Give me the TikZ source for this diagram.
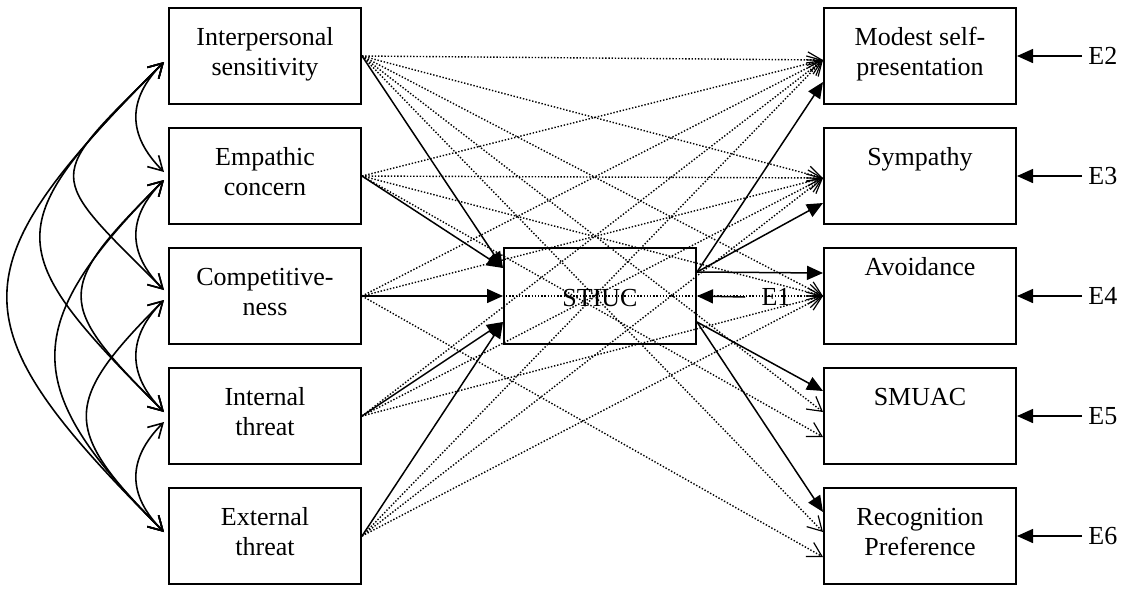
\documentclass[tikz,border=0pt]{standalone}
\usepackage{fontspec}
\setmainfont{Liberation Serif}
\usetikzlibrary{arrows.meta}

\begin{document}
\begin{tikzpicture}[x=0.5pt,y=-0.5pt,
    varbox/.style={draw,line width=1pt,minimum width=96pt,minimum height=48pt,align=center,inner sep=0pt,
      font=\fontsize{13}{15}\selectfont,execute at begin node=\strut,execute at end node=\strut},
    pathline/.style={line width=0.75pt,-{Triangle[length=8pt,width=7pt]}},
    dotline/.style={line width=0.7pt,dash pattern=on 0.7pt off 0.9pt,-{Straight Barb[length=7pt,width=8pt,line width=0.6pt]}},
    corline/.style={line width=0.8pt,{Straight Barb[length=7pt,width=8pt]}-{Straight Barb[length=7pt,width=8pt]}},
    errlab/.style={font=\fontsize{13}{15}\selectfont,inner sep=0pt}]
  \useasboundingbox (0,0) rectangle (1136,590);

  % exogenous variables
  \node[varbox] (ints) at (265,56) {Interpersonal\\sensitivity};
  \node[varbox] (emp) at (265,176) {Empathic\\concern};
  \node[varbox] (comp) at (265,296) {Competitive-\\ness};
  \node[varbox] (intt) at (265,416) {Internal\\threat};
  \node[varbox] (extt) at (265,536) {External\\threat};

  % mediator
  \node[varbox] (stiuc) at (600,296) {\\STIUC};
  \node[errlab] (e1) at (776,297) {E1};

  % outcomes
  \node[varbox] (mod) at (920,56) {Modest self-\\presentation};
  \node[varbox] (symp) at (920,176) {Sympathy\\};
  \node[varbox] (avoid) at (920,296) {Avoidance\\[10pt]};
  \node[varbox] (smuac) at (920,416) {SMUAC\\};
  \node[varbox] (recog) at (920,536) {Recognition\\Preference};

  \node[errlab,anchor=west] (e2) at (1088,56) {E2};
  \node[errlab,anchor=west] (e3) at (1088,176) {E3};
  \node[errlab,anchor=west] (e4) at (1088,296) {E4};
  \node[errlab,anchor=west] (e5) at (1088,416) {E5};
  \node[errlab,anchor=west] (e6) at (1088,536) {E6};

  % residual arrows
  \draw[pathline] ([xshift=-8pt]e1.west) -- (stiuc.east);
  \foreach \e/\v in {e2/mod,e3/symp,e4/avoid,e5/smuac,e6/recog}
    \draw[pathline] ([xshift=-3pt]\e.west) -- (\v.east);

  % paths through STIUC
  \draw[pathline] (ints.east) -- ([yshift=14pt]stiuc.west);
  \draw[pathline] (emp.east) -- ([yshift=14pt]stiuc.west);
  \draw[pathline] (comp.east) -- (stiuc.west);
  \draw[pathline] (intt.east) -- ([yshift=-13pt]stiuc.west);
  \draw[pathline] (extt.east) -- ([yshift=-13pt]stiuc.west);
  \draw[pathline] ([yshift=12pt]stiuc.east) -- ([yshift=-13pt]mod.west);
  \draw[pathline] ([yshift=12pt]stiuc.east) -- ([yshift=-13.5pt]symp.west);
  \draw[pathline] ([yshift=12pt]stiuc.east) -- ([yshift=11.5pt]avoid.west);
  \draw[pathline] ([yshift=-13pt]stiuc.east) -- ([yshift=12.5pt]smuac.west);
  \draw[pathline] ([yshift=-13pt]stiuc.east) -- ([yshift=12pt]recog.west);

  % direct paths
  \foreach \s in {ints,emp,comp,intt,extt}{
    \draw[dotline] (\s.east) -- ([yshift=-2pt]mod.west);
    \draw[dotline] (\s.east) -- ([yshift=-1pt]symp.west);
    \draw[dotline] (\s.east) -- (avoid.west);
  }
  \draw[dotline] (ints.east) -- ([yshift=2pt]smuac.west);
  \draw[dotline] (emp.east) -- ([yshift=-10.5pt]smuac.west);
  \draw[dotline] (ints.east) -- ([yshift=2pt]recog.west);
  \draw[dotline] (comp.east) -- ([yshift=-10.5pt]recog.west);

  % correlations
  \coordinate (p1) at ([xshift=-2pt,yshift=-3pt]ints.west);
  \coordinate (p2u) at ([xshift=-2pt,yshift=2pt]emp.west);
  \coordinate (p2l) at ([xshift=-2pt,yshift=-2pt]emp.west);
  \coordinate (p3u) at ([xshift=-2pt,yshift=3pt]comp.west);
  \coordinate (p3l) at ([xshift=-2pt,yshift=-2pt]comp.west);
  \coordinate (p4u) at ([xshift=-2pt,yshift=2pt]intt.west);
  \coordinate (p4l) at ([xshift=-2pt,yshift=-3pt]intt.west);
  \coordinate (p5) at ([xshift=-2pt,yshift=2pt]extt.west);
  \foreach \a/\b/\d in {p1/p2u/37,p1/p3u/120,p1/p4u/165,p1/p5/209,p2l/p3u/37,
      p2l/p4u/110,p2l/p5/145,p3l/p4u/37,p3l/p5/103,p4l/p5/37}
    \draw[corline] (\a) .. controls +(-\d,\d) and +(-\d,-\d) .. (\b);
\end{tikzpicture}
\end{document}
